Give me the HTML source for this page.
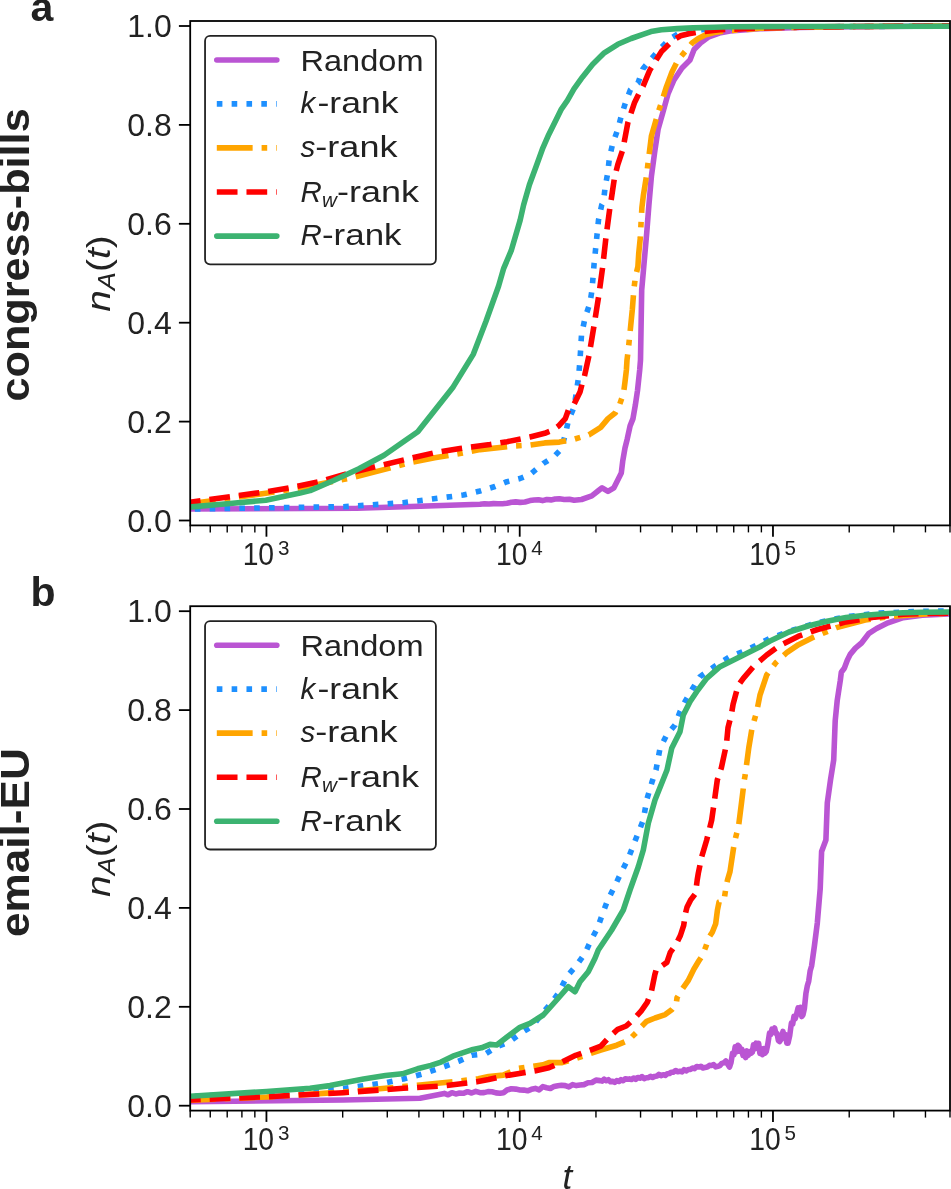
<!DOCTYPE html><html><head><meta charset="utf-8"><style>html,body{margin:0;padding:0;background:#fff;overflow:hidden;}svg{display:block;will-change:transform;}</style></head><body>
<svg width="951" height="1189" viewBox="0 0 951 1189" font-family='"Liberation Sans", sans-serif' fill="#222">
<rect x="0" y="0" width="951" height="1189" fill="#fff"/>
<clipPath id="clipa"><rect x="190.2" y="21.0" width="759.8" height="504.4"/></clipPath>
<polyline points="180.0,509.3 190.0,509.0 356.7,508.3 480.0,504.3 484.5,503.7 489.0,504.0 493.5,503.6 498.0,503.8 502.5,503.7 507.0,503.3 511.3,502.3 515.7,501.9 520.0,502.4 525.0,502.0 530.0,500.6 534.2,500.0 538.4,499.7 542.6,500.6 546.8,499.5 551.0,499.9 555.2,499.0 559.4,498.8 564.3,499.5 569.3,499.2 574.2,500.3 581.5,499.5 591.8,495.9 599.2,490.0 602.1,487.8 608.0,491.4 613.9,487.8 618.3,478.9 621.3,473.0 622.7,461.3 625.0,448.0 627.2,439.2 630.1,425.9 633.0,418.6 635.3,405.3 637.5,390.6 639.7,370.0 640.5,360.0 641.7,290.0 646.7,233.3 648.9,205.0 651.4,176.4 654.8,151.2 658.1,129.3 663.0,112.0 668.0,94.0 674.0,80.0 682.0,68.0 690.0,60.0 694.1,49.4 701.5,42.1 708.9,36.8 719.4,33.1 730.0,31.0 760.0,28.8 800.0,27.5 850.0,26.7 960.0,26.0" fill="none" stroke="#BA55D3" stroke-width="5.6" stroke-linejoin="round" stroke-linecap="round" clip-path="url(#clipa)"/>
<polyline points="180.0,509.2 190.0,509.0 343.3,506.7 403.3,502.7 463.3,495.0 480.0,491.0 495.0,486.5 507.0,481.7 520.0,478.5 530.0,474.5 543.2,463.5 553.6,456.9 560.9,449.5 565.3,434.8 568.3,420.8 574.2,406.8 576.4,392.1 578.6,376.6 580.0,360.0 581.5,335.0 585.0,318.0 590.0,303.0 592.0,290.0 594.0,265.0 596.5,240.0 598.5,220.0 601.7,205.0 603.5,201.6 605.1,187.3 607.7,173.0 609.4,157.9 612.7,143.6 617.8,129.3 621.1,116.7 625.3,103.2 630.4,89.8 638.0,83.0 643.0,68.7 651.4,58.6 660.5,48.4 670.0,38.9 678.4,33.7 696.7,30.0 720.0,28.3 800.0,26.9 960.0,25.9" fill="none" stroke="#1E90FF" stroke-width="5.6" stroke-linejoin="round" stroke-linecap="butt" stroke-dasharray="5.60,9.24" clip-path="url(#clipa)"/>
<polyline points="180.0,505.0 191.7,503.5 235.5,497.5 265.8,493.3 300.0,488.0 350.5,478.0 380.8,470.4 409.4,462.8 434.6,457.8 460.0,453.6 480.0,449.6 513.3,446.0 530.0,445.1 544.7,442.9 559.4,442.1 574.2,439.2 588.9,434.8 600.7,427.4 608.0,418.6 615.4,412.7 619.8,403.9 623.5,393.6 625.0,381.8 626.4,370.0 627.0,360.0 628.3,349.7 630.7,325.8 632.3,309.8 633.9,289.0 635.5,276.3 637.9,266.7 638.7,253.9 640.3,237.9 641.1,221.9 641.9,207.6 643.3,196.0 646.4,176.4 648.9,156.2 651.4,136.0 654.8,124.3 658.1,112.5 661.0,104.0 666.0,88.0 672.0,72.0 678.0,60.0 684.2,52.6 692.0,43.1 698.3,38.4 705.7,34.7 714.1,32.6 724.6,31.0 760.0,28.3 800.0,27.3 850.0,26.6 960.0,25.9" fill="none" stroke="#FFA500" stroke-width="5.6" stroke-linejoin="round" stroke-linecap="butt" stroke-dasharray="35.84,8.96,5.60,8.96" clip-path="url(#clipa)"/>
<polyline points="180.0,503.5 191.7,501.9 235.5,496.0 265.8,491.8 294.4,487.0 320.0,481.5 343.7,474.6 377.4,466.2 406.0,459.4 434.6,452.7 460.0,448.5 490.0,444.5 507.0,441.7 530.0,437.0 544.7,433.3 552.1,430.4 558.7,425.9 565.3,418.6 569.0,408.3 574.2,403.9 580.0,392.1 582.3,383.2 584.5,376.0 589.2,354.5 594.0,325.8 598.8,295.4 602.7,266.7 605.9,237.9 609.9,207.6 611.3,199.0 614.4,178.1 617.8,164.6 622.8,149.5 627.9,122.6 634.6,102.4 639.6,92.3 643.0,86.4 649.7,70.4 654.8,62.0 661.5,51.5 672.1,41.0 680.5,35.8 688.9,33.7 698.3,32.1 720.0,29.8 760.0,28.0 800.0,27.2 850.0,26.5 960.0,25.8" fill="none" stroke="#FF0000" stroke-width="5.6" stroke-linejoin="round" stroke-linecap="butt" stroke-dasharray="20.72,8.96" clip-path="url(#clipa)"/>
<polyline points="180.0,507.4 191.7,506.9 230.0,503.5 265.8,500.2 300.0,493.1 310.1,490.6 333.6,480.5 358.9,468.7 384.1,455.2 400.9,443.5 417.8,431.7 453.2,386.9 473.4,354.1 486.0,321.3 498.6,286.0 503.7,268.3 511.2,250.7 520.1,220.4 523.6,205.0 529.4,184.8 536.2,166.3 542.9,147.8 548.8,134.4 555.5,120.9 561.4,109.1 567.3,100.7 574.0,88.9 582.4,77.2 592.5,64.5 604.3,52.8 617.8,44.3 631.2,38.5 643.0,34.3 651.0,31.6 661.5,29.8 677.3,28.6 693.1,27.9 714.1,27.2 730.0,26.8 790.0,26.5 960.0,26.2" fill="none" stroke="#3CB371" stroke-width="5.6" stroke-linejoin="round" stroke-linecap="round" clip-path="url(#clipa)"/>
<rect x="190.2" y="21.0" width="759.8" height="504.4" fill="none" stroke="#000" stroke-width="1.8"/>
<line x1="178.89999999999998" y1="520.50" x2="190.2" y2="520.50" stroke="#000" stroke-width="1.8"/>
<text x="171.8" y="531.50" font-size="30.5" text-anchor="end" textLength="44.5" lengthAdjust="spacingAndGlyphs">0.0</text>
<line x1="178.89999999999998" y1="421.60" x2="190.2" y2="421.60" stroke="#000" stroke-width="1.8"/>
<text x="171.8" y="432.60" font-size="30.5" text-anchor="end" textLength="44.5" lengthAdjust="spacingAndGlyphs">0.2</text>
<line x1="178.89999999999998" y1="322.70" x2="190.2" y2="322.70" stroke="#000" stroke-width="1.8"/>
<text x="171.8" y="333.70" font-size="30.5" text-anchor="end" textLength="44.5" lengthAdjust="spacingAndGlyphs">0.4</text>
<line x1="178.89999999999998" y1="223.80" x2="190.2" y2="223.80" stroke="#000" stroke-width="1.8"/>
<text x="171.8" y="234.80" font-size="30.5" text-anchor="end" textLength="44.5" lengthAdjust="spacingAndGlyphs">0.6</text>
<line x1="178.89999999999998" y1="124.90" x2="190.2" y2="124.90" stroke="#000" stroke-width="1.8"/>
<text x="171.8" y="135.90" font-size="30.5" text-anchor="end" textLength="44.5" lengthAdjust="spacingAndGlyphs">0.8</text>
<line x1="178.89999999999998" y1="26.00" x2="190.2" y2="26.00" stroke="#000" stroke-width="1.8"/>
<text x="171.8" y="37.00" font-size="30.5" text-anchor="end" textLength="44.5" lengthAdjust="spacingAndGlyphs">1.0</text>
<line x1="266.44" y1="525.4" x2="266.44" y2="536.6999999999999" stroke="#000" stroke-width="1.8"/>
<text x="242.64" y="565.00" font-size="30.5" textLength="31.5" lengthAdjust="spacingAndGlyphs">10</text>
<text x="278.04" y="554.60" font-size="20.6">3</text>
<line x1="519.71" y1="525.4" x2="519.71" y2="536.6999999999999" stroke="#000" stroke-width="1.8"/>
<text x="495.91" y="565.00" font-size="30.5" textLength="31.5" lengthAdjust="spacingAndGlyphs">10</text>
<text x="531.31" y="554.60" font-size="20.6">4</text>
<line x1="772.97" y1="525.4" x2="772.97" y2="536.6999999999999" stroke="#000" stroke-width="1.8"/>
<text x="749.17" y="565.00" font-size="30.5" textLength="31.5" lengthAdjust="spacingAndGlyphs">10</text>
<text x="784.57" y="554.60" font-size="20.6">5</text>
<line x1="190.20" y1="525.4" x2="190.20" y2="532.4" stroke="#000" stroke-width="1.4"/>
<line x1="210.25" y1="525.4" x2="210.25" y2="532.4" stroke="#000" stroke-width="1.4"/>
<line x1="227.21" y1="525.4" x2="227.21" y2="532.4" stroke="#000" stroke-width="1.4"/>
<line x1="241.90" y1="525.4" x2="241.90" y2="532.4" stroke="#000" stroke-width="1.4"/>
<line x1="254.85" y1="525.4" x2="254.85" y2="532.4" stroke="#000" stroke-width="1.4"/>
<line x1="342.68" y1="525.4" x2="342.68" y2="532.4" stroke="#000" stroke-width="1.4"/>
<line x1="387.28" y1="525.4" x2="387.28" y2="532.4" stroke="#000" stroke-width="1.4"/>
<line x1="418.92" y1="525.4" x2="418.92" y2="532.4" stroke="#000" stroke-width="1.4"/>
<line x1="443.47" y1="525.4" x2="443.47" y2="532.4" stroke="#000" stroke-width="1.4"/>
<line x1="463.52" y1="525.4" x2="463.52" y2="532.4" stroke="#000" stroke-width="1.4"/>
<line x1="480.48" y1="525.4" x2="480.48" y2="532.4" stroke="#000" stroke-width="1.4"/>
<line x1="495.16" y1="525.4" x2="495.16" y2="532.4" stroke="#000" stroke-width="1.4"/>
<line x1="508.12" y1="525.4" x2="508.12" y2="532.4" stroke="#000" stroke-width="1.4"/>
<line x1="595.95" y1="525.4" x2="595.95" y2="532.4" stroke="#000" stroke-width="1.4"/>
<line x1="640.55" y1="525.4" x2="640.55" y2="532.4" stroke="#000" stroke-width="1.4"/>
<line x1="672.19" y1="525.4" x2="672.19" y2="532.4" stroke="#000" stroke-width="1.4"/>
<line x1="696.73" y1="525.4" x2="696.73" y2="532.4" stroke="#000" stroke-width="1.4"/>
<line x1="716.79" y1="525.4" x2="716.79" y2="532.4" stroke="#000" stroke-width="1.4"/>
<line x1="733.74" y1="525.4" x2="733.74" y2="532.4" stroke="#000" stroke-width="1.4"/>
<line x1="748.43" y1="525.4" x2="748.43" y2="532.4" stroke="#000" stroke-width="1.4"/>
<line x1="761.39" y1="525.4" x2="761.39" y2="532.4" stroke="#000" stroke-width="1.4"/>
<line x1="849.22" y1="525.4" x2="849.22" y2="532.4" stroke="#000" stroke-width="1.4"/>
<line x1="893.81" y1="525.4" x2="893.81" y2="532.4" stroke="#000" stroke-width="1.4"/>
<line x1="925.46" y1="525.4" x2="925.46" y2="532.4" stroke="#000" stroke-width="1.4"/>
<line x1="950.00" y1="525.4" x2="950.00" y2="532.4" stroke="#000" stroke-width="1.4"/>
<rect x="205.05" y="35.9" width="230.85" height="228.40" rx="5" ry="5" fill="#fff" stroke="#222" stroke-width="1.8"/>
<polyline points="216.8,60.0 276.8,60.0" fill="none" stroke="#BA55D3" stroke-width="5.6" stroke-linejoin="round" stroke-linecap="round"/>
<text x="300.5" y="70.80" font-size="29.5" textLength="123.0" lengthAdjust="spacingAndGlyphs">Random</text>
<polyline points="216.8,103.9 276.8,103.9" fill="none" stroke="#1E90FF" stroke-width="5.6" stroke-linejoin="round" stroke-linecap="butt" stroke-dasharray="5.60,9.24"/>
<text x="300.5" y="113.30" font-size="29.5" font-style="italic">k</text>
<text x="317.5" y="113.30" font-size="29.5" textLength="81.0" lengthAdjust="spacingAndGlyphs">-rank</text>
<polyline points="216.8,147.9 276.8,147.9" fill="none" stroke="#FFA500" stroke-width="5.6" stroke-linejoin="round" stroke-linecap="butt" stroke-dasharray="35.84,8.96,5.60,8.96"/>
<text x="300.5" y="157.10" font-size="29.5" font-style="italic">s</text>
<text x="315.3" y="157.10" font-size="29.5" textLength="82.2" lengthAdjust="spacingAndGlyphs">-rank</text>
<polyline points="216.8,192.0 276.8,192.0" fill="none" stroke="#FF0000" stroke-width="5.6" stroke-linejoin="round" stroke-linecap="butt" stroke-dasharray="20.72,8.96"/>
<text x="300.5" y="201.70" font-size="29.5" font-style="italic">R</text>
<text x="322.0" y="206.50" font-size="20.6" font-style="italic">w</text>
<text x="337.0" y="201.70" font-size="29.5" textLength="82.0" lengthAdjust="spacingAndGlyphs">-rank</text>
<polyline points="216.8,236.1 276.8,236.1" fill="none" stroke="#3CB371" stroke-width="5.6" stroke-linejoin="round" stroke-linecap="round"/>
<text x="300.5" y="245.40" font-size="29.5" font-style="italic">R</text>
<text x="322.0" y="245.40" font-size="29.5" textLength="79.5" lengthAdjust="spacingAndGlyphs">-rank</text>
<g transform="translate(109.6,273.6) rotate(-90)"><text x="-38.2" y="0" font-size="33.0" textLength="76.5" lengthAdjust="spacingAndGlyphs"><tspan font-style="italic">n</tspan><tspan font-size="23.1" font-style="italic" dy="5.5">A</tspan><tspan dy="-5.5">(</tspan><tspan font-style="italic">t</tspan>)</text></g>
<text transform="translate(28.8,401.6) rotate(-90)" font-size="41.0" font-weight="bold" textLength="293.3" lengthAdjust="spacingAndGlyphs">congress-bills</text>
<text x="30.5" y="21.2" font-size="41.0" font-weight="bold">a</text>
<clipPath id="clipb"><rect x="190.2" y="606.2" width="759.8" height="504.39999999999986"/></clipPath>
<polyline points="180.0,1102.0 190.0,1101.7 343.3,1100.0 420.0,1098.3 436.7,1095.0 440.5,1094.2 444.3,1093.4 448.1,1094.8 451.9,1092.7 455.7,1093.9 459.5,1093.1 463.3,1093.3 467.5,1091.7 471.6,1093.0 475.8,1091.4 480.0,1092.7 484.0,1092.6 488.0,1091.6 492.0,1091.8 496.0,1092.9 500.0,1093.3 503.5,1092.7 507.0,1090.0 511.3,1088.8 515.7,1089.1 520.0,1090.0 523.8,1090.1 527.6,1090.8 531.4,1089.3 535.3,1088.4 539.1,1089.9 542.9,1086.6 546.7,1087.7 550.4,1088.5 554.1,1086.4 557.8,1085.7 561.5,1085.3 565.2,1085.6 568.9,1086.9 572.6,1084.6 576.3,1085.6 580.0,1085.0 584.0,1084.6 588.0,1082.8 592.0,1082.5 596.0,1080.1 600.0,1080.6 602.1,1081.1 604.2,1079.2 606.3,1080.7 608.4,1079.7 610.5,1081.8 612.6,1081.2 614.7,1082.4 616.8,1080.6 618.9,1081.5 621.0,1079.7 623.1,1080.7 625.2,1078.7 627.3,1079.3 629.4,1078.9 631.5,1079.5 633.6,1078.0 635.7,1079.3 637.8,1077.5 639.9,1078.2 642.0,1076.6 644.2,1078.6 646.3,1077.7 648.4,1077.7 650.5,1076.4 652.6,1077.4 654.7,1076.4 656.8,1076.1 658.9,1074.3 661.0,1075.6 663.1,1074.7 665.2,1075.4 667.3,1073.8 669.4,1073.5 671.5,1072.2 673.6,1072.1 675.7,1070.5 677.8,1071.7 679.9,1071.3 682.0,1071.9 684.1,1069.6 686.2,1070.9 688.3,1069.5 690.4,1069.4 692.5,1068.0 694.6,1068.6 696.7,1066.5 698.8,1067.0 700.9,1066.3 703.0,1068.0 705.1,1067.4 707.3,1067.0 709.4,1065.4 711.5,1065.5 713.6,1064.6 715.7,1066.9 717.8,1066.3 719.8,1065.6 721.8,1063.4 723.8,1062.9 725.8,1061.0 729.5,1067.0 731.0,1062.6 732.5,1053.3 733.9,1054.7 735.2,1046.8 736.6,1051.8 737.9,1045.3 739.3,1046.6 740.5,1051.5 741.8,1049.1 743.0,1055.5 744.3,1055.0 745.6,1057.6 747.0,1050.9 748.3,1055.4 749.7,1051.6 751.0,1053.3 752.3,1052.2 753.5,1044.8 754.8,1048.9 756.1,1043.2 757.4,1046.6 758.6,1043.4 759.9,1053.4 761.1,1051.6 762.4,1054.6 763.7,1048.7 764.9,1053.2 766.2,1051.6 767.9,1043.6 769.5,1033.1 770.8,1034.5 772.0,1029.2 773.3,1031.0 774.6,1028.0 775.9,1033.3 777.1,1033.5 778.4,1040.6 779.6,1041.5 781.3,1038.9 783.0,1031.4 784.2,1037.9 785.5,1034.6 786.8,1043.2 788.0,1043.2 789.7,1035.7 791.4,1023.0 792.7,1024.0 794.0,1016.3 795.2,1018.7 796.5,1014.6 798.1,1007.9 799.3,1013.6 800.5,1007.3 801.8,1016.6 803.0,1014.7 804.4,1008.3 805.9,993.6 807.3,986.1 808.7,981.2 810.2,970.7 811.6,966.0 814.4,946.0 817.3,923.1 820.2,888.8 821.6,851.6 825.9,840.1 827.3,802.9 830.5,780.0 833.7,760.0 835.2,720.8 837.2,700.6 840.3,680.4 841.3,672.3 844.3,668.3 847.3,660.2 850.4,654.1 855.4,648.1 861.5,643.0 869.0,633.3 876.6,628.5 888.0,622.8 903.2,617.6 922.3,615.3 948.9,614.0 960.0,613.8" fill="none" stroke="#BA55D3" stroke-width="5.6" stroke-linejoin="round" stroke-linecap="round" clip-path="url(#clipb)"/>
<polyline points="180.0,1097.0 190.0,1096.5 266.7,1093.0 310.0,1091.0 343.3,1088.5 386.7,1082.5 403.3,1079.0 423.3,1073.8 444.4,1066.5 458.4,1061.4 471.7,1055.3 485.6,1053.8 497.4,1046.4 509.2,1042.0 521.0,1033.2 532.7,1025.8 543.0,1012.6 551.9,1002.3 559.2,992.0 566.7,976.7 576.7,965.0 585.0,953.3 590.8,940.6 597.6,927.9 602.6,913.6 607.7,900.2 614.4,886.7 620.0,875.0 628.3,858.3 636.7,836.7 643.3,820.0 646.7,800.0 652.0,782.0 656.0,770.0 660.0,748.3 666.7,735.0 675.0,725.0 680.0,711.7 685.0,701.7 691.7,690.0 700.0,676.7 716.7,665.0 730.0,656.7 746.7,650.0 770.0,638.3 793.3,630.0 810.0,624.8 830.0,619.8 850.0,616.2 880.0,613.0 920.0,611.3 960.0,610.8" fill="none" stroke="#1E90FF" stroke-width="5.6" stroke-linejoin="round" stroke-linecap="butt" stroke-dasharray="5.60,9.24" clip-path="url(#clipb)"/>
<polyline points="180.0,1100.8 190.0,1100.3 266.7,1097.0 343.3,1092.0 420.0,1085.0 459.1,1081.0 478.3,1078.8 488.6,1076.6 503.3,1075.1 518.0,1068.5 528.3,1067.0 543.0,1064.8 548.9,1062.6 562.2,1062.6 576.9,1058.2 600.0,1050.3 616.8,1045.2 628.6,1040.2 637.0,1031.8 640.0,1028.0 646.7,1021.3 655.1,1018.0 665.2,1014.6 672.0,1009.5 676.2,1004.5 677.0,997.8 682.1,989.4 688.0,980.9 690.5,975.9 693.8,969.2 698.9,960.8 702.2,955.7 705.6,947.3 709.0,937.2 712.3,932.2 715.7,923.7 717.4,910.3 719.1,901.9 724.1,900.2 725.8,888.4 727.5,880.0 730.0,871.6 734.3,843.0 738.6,825.8 741.5,802.9 744.3,780.0 745.2,775.0 748.7,748.3 752.0,728.3 756.7,711.7 760.0,695.0 766.7,675.0 775.7,662.8 787.1,652.3 798.5,644.7 813.8,637.1 836.6,627.6 865.2,620.0 893.7,616.2 930.0,613.8 960.0,613.2" fill="none" stroke="#FFA500" stroke-width="5.6" stroke-linejoin="round" stroke-linecap="butt" stroke-dasharray="35.84,8.96,5.60,8.96" clip-path="url(#clipb)"/>
<polyline points="180.0,1100.5 190.0,1100.0 266.7,1096.7 343.3,1092.7 403.3,1088.3 440.0,1086.2 459.1,1084.0 476.8,1081.8 488.6,1079.6 504.8,1075.9 522.4,1072.9 535.7,1070.7 548.9,1067.8 560.7,1062.6 575.7,1055.3 587.5,1051.2 600.9,1046.2 607.7,1038.6 617.8,1029.3 626.2,1026.0 634.6,1018.4 641.3,1010.8 647.2,1002.4 651.4,991.5 654.8,974.7 656.8,967.5 661.9,965.8 666.9,962.4 670.3,952.3 676.2,943.9 680.4,935.5 683.7,925.4 685.4,913.6 687.1,906.9 690.5,900.2 695.5,893.5 697.2,880.0 698.3,873.3 701.7,856.7 706.7,840.0 711.7,820.0 715.0,796.7 717.3,780.0 721.3,768.1 726.4,744.6 728.0,727.8 731.4,714.3 733.1,704.2 738.1,685.7 743.3,678.3 753.3,666.7 766.7,655.0 779.5,645.7 798.5,636.2 817.6,629.5 846.1,621.9 874.7,617.1 903.2,614.2 930.0,613.4 960.0,612.9" fill="none" stroke="#FF0000" stroke-width="5.6" stroke-linejoin="round" stroke-linecap="butt" stroke-dasharray="20.72,8.96" clip-path="url(#clipb)"/>
<polyline points="180.0,1096.8 190.0,1096.3 266.7,1091.5 310.0,1088.2 330.0,1085.6 363.6,1078.9 385.5,1075.5 402.3,1073.8 417.5,1068.8 430.9,1065.4 441.0,1062.1 452.8,1056.2 473.0,1049.4 481.4,1047.8 490.0,1044.4 496.7,1045.0 506.7,1037.3 520.0,1027.3 530.0,1023.3 543.3,1015.0 556.7,1000.0 568.3,986.7 575.0,991.7 580.0,981.7 588.3,971.7 595.0,958.3 598.3,950.0 611.7,930.0 623.3,910.0 630.0,890.0 638.3,866.7 643.3,850.0 648.3,823.3 655.0,800.0 663.0,780.0 667.0,770.0 671.7,748.3 680.0,731.7 683.3,715.0 690.0,701.7 696.7,691.7 706.7,678.3 720.0,666.7 740.0,656.7 760.0,646.7 770.0,641.0 789.0,632.0 808.0,626.0 827.0,621.3 846.0,617.5 865.0,615.3 884.0,613.8 903.0,612.8 922.0,612.3 960.0,611.8" fill="none" stroke="#3CB371" stroke-width="5.6" stroke-linejoin="round" stroke-linecap="round" clip-path="url(#clipb)"/>
<rect x="190.2" y="606.2" width="759.8" height="504.39999999999986" fill="none" stroke="#000" stroke-width="1.8"/>
<line x1="178.89999999999998" y1="1105.70" x2="190.2" y2="1105.70" stroke="#000" stroke-width="1.8"/>
<text x="171.8" y="1116.70" font-size="30.5" text-anchor="end" textLength="44.5" lengthAdjust="spacingAndGlyphs">0.0</text>
<line x1="178.89999999999998" y1="1006.80" x2="190.2" y2="1006.80" stroke="#000" stroke-width="1.8"/>
<text x="171.8" y="1017.80" font-size="30.5" text-anchor="end" textLength="44.5" lengthAdjust="spacingAndGlyphs">0.2</text>
<line x1="178.89999999999998" y1="907.90" x2="190.2" y2="907.90" stroke="#000" stroke-width="1.8"/>
<text x="171.8" y="918.90" font-size="30.5" text-anchor="end" textLength="44.5" lengthAdjust="spacingAndGlyphs">0.4</text>
<line x1="178.89999999999998" y1="809.00" x2="190.2" y2="809.00" stroke="#000" stroke-width="1.8"/>
<text x="171.8" y="820.00" font-size="30.5" text-anchor="end" textLength="44.5" lengthAdjust="spacingAndGlyphs">0.6</text>
<line x1="178.89999999999998" y1="710.10" x2="190.2" y2="710.10" stroke="#000" stroke-width="1.8"/>
<text x="171.8" y="721.10" font-size="30.5" text-anchor="end" textLength="44.5" lengthAdjust="spacingAndGlyphs">0.8</text>
<line x1="178.89999999999998" y1="611.20" x2="190.2" y2="611.20" stroke="#000" stroke-width="1.8"/>
<text x="171.8" y="622.20" font-size="30.5" text-anchor="end" textLength="44.5" lengthAdjust="spacingAndGlyphs">1.0</text>
<line x1="266.44" y1="1110.6" x2="266.44" y2="1121.8999999999999" stroke="#000" stroke-width="1.8"/>
<text x="242.64" y="1150.20" font-size="30.5" textLength="31.5" lengthAdjust="spacingAndGlyphs">10</text>
<text x="278.04" y="1139.80" font-size="20.6">3</text>
<line x1="519.71" y1="1110.6" x2="519.71" y2="1121.8999999999999" stroke="#000" stroke-width="1.8"/>
<text x="495.91" y="1150.20" font-size="30.5" textLength="31.5" lengthAdjust="spacingAndGlyphs">10</text>
<text x="531.31" y="1139.80" font-size="20.6">4</text>
<line x1="772.97" y1="1110.6" x2="772.97" y2="1121.8999999999999" stroke="#000" stroke-width="1.8"/>
<text x="749.17" y="1150.20" font-size="30.5" textLength="31.5" lengthAdjust="spacingAndGlyphs">10</text>
<text x="784.57" y="1139.80" font-size="20.6">5</text>
<line x1="190.20" y1="1110.6" x2="190.20" y2="1117.6" stroke="#000" stroke-width="1.4"/>
<line x1="210.25" y1="1110.6" x2="210.25" y2="1117.6" stroke="#000" stroke-width="1.4"/>
<line x1="227.21" y1="1110.6" x2="227.21" y2="1117.6" stroke="#000" stroke-width="1.4"/>
<line x1="241.90" y1="1110.6" x2="241.90" y2="1117.6" stroke="#000" stroke-width="1.4"/>
<line x1="254.85" y1="1110.6" x2="254.85" y2="1117.6" stroke="#000" stroke-width="1.4"/>
<line x1="342.68" y1="1110.6" x2="342.68" y2="1117.6" stroke="#000" stroke-width="1.4"/>
<line x1="387.28" y1="1110.6" x2="387.28" y2="1117.6" stroke="#000" stroke-width="1.4"/>
<line x1="418.92" y1="1110.6" x2="418.92" y2="1117.6" stroke="#000" stroke-width="1.4"/>
<line x1="443.47" y1="1110.6" x2="443.47" y2="1117.6" stroke="#000" stroke-width="1.4"/>
<line x1="463.52" y1="1110.6" x2="463.52" y2="1117.6" stroke="#000" stroke-width="1.4"/>
<line x1="480.48" y1="1110.6" x2="480.48" y2="1117.6" stroke="#000" stroke-width="1.4"/>
<line x1="495.16" y1="1110.6" x2="495.16" y2="1117.6" stroke="#000" stroke-width="1.4"/>
<line x1="508.12" y1="1110.6" x2="508.12" y2="1117.6" stroke="#000" stroke-width="1.4"/>
<line x1="595.95" y1="1110.6" x2="595.95" y2="1117.6" stroke="#000" stroke-width="1.4"/>
<line x1="640.55" y1="1110.6" x2="640.55" y2="1117.6" stroke="#000" stroke-width="1.4"/>
<line x1="672.19" y1="1110.6" x2="672.19" y2="1117.6" stroke="#000" stroke-width="1.4"/>
<line x1="696.73" y1="1110.6" x2="696.73" y2="1117.6" stroke="#000" stroke-width="1.4"/>
<line x1="716.79" y1="1110.6" x2="716.79" y2="1117.6" stroke="#000" stroke-width="1.4"/>
<line x1="733.74" y1="1110.6" x2="733.74" y2="1117.6" stroke="#000" stroke-width="1.4"/>
<line x1="748.43" y1="1110.6" x2="748.43" y2="1117.6" stroke="#000" stroke-width="1.4"/>
<line x1="761.39" y1="1110.6" x2="761.39" y2="1117.6" stroke="#000" stroke-width="1.4"/>
<line x1="849.22" y1="1110.6" x2="849.22" y2="1117.6" stroke="#000" stroke-width="1.4"/>
<line x1="893.81" y1="1110.6" x2="893.81" y2="1117.6" stroke="#000" stroke-width="1.4"/>
<line x1="925.46" y1="1110.6" x2="925.46" y2="1117.6" stroke="#000" stroke-width="1.4"/>
<line x1="950.00" y1="1110.6" x2="950.00" y2="1117.6" stroke="#000" stroke-width="1.4"/>
<rect x="205.05" y="621.1" width="230.85" height="228.40" rx="5" ry="5" fill="#fff" stroke="#222" stroke-width="1.8"/>
<polyline points="216.8,645.2 276.8,645.2" fill="none" stroke="#BA55D3" stroke-width="5.6" stroke-linejoin="round" stroke-linecap="round"/>
<text x="300.5" y="656.00" font-size="29.5" textLength="123.0" lengthAdjust="spacingAndGlyphs">Random</text>
<polyline points="216.8,689.1 276.8,689.1" fill="none" stroke="#1E90FF" stroke-width="5.6" stroke-linejoin="round" stroke-linecap="butt" stroke-dasharray="5.60,9.24"/>
<text x="300.5" y="698.50" font-size="29.5" font-style="italic">k</text>
<text x="317.5" y="698.50" font-size="29.5" textLength="81.0" lengthAdjust="spacingAndGlyphs">-rank</text>
<polyline points="216.8,733.1 276.8,733.1" fill="none" stroke="#FFA500" stroke-width="5.6" stroke-linejoin="round" stroke-linecap="butt" stroke-dasharray="35.84,8.96,5.60,8.96"/>
<text x="300.5" y="742.30" font-size="29.5" font-style="italic">s</text>
<text x="315.3" y="742.30" font-size="29.5" textLength="82.2" lengthAdjust="spacingAndGlyphs">-rank</text>
<polyline points="216.8,777.2 276.8,777.2" fill="none" stroke="#FF0000" stroke-width="5.6" stroke-linejoin="round" stroke-linecap="butt" stroke-dasharray="20.72,8.96"/>
<text x="300.5" y="786.90" font-size="29.5" font-style="italic">R</text>
<text x="322.0" y="791.70" font-size="20.6" font-style="italic">w</text>
<text x="337.0" y="786.90" font-size="29.5" textLength="82.0" lengthAdjust="spacingAndGlyphs">-rank</text>
<polyline points="216.8,821.3 276.8,821.3" fill="none" stroke="#3CB371" stroke-width="5.6" stroke-linejoin="round" stroke-linecap="round"/>
<text x="300.5" y="830.60" font-size="29.5" font-style="italic">R</text>
<text x="322.0" y="830.60" font-size="29.5" textLength="79.5" lengthAdjust="spacingAndGlyphs">-rank</text>
<g transform="translate(109.6,858.8) rotate(-90)"><text x="-38.2" y="0" font-size="33.0" textLength="76.5" lengthAdjust="spacingAndGlyphs"><tspan font-style="italic">n</tspan><tspan font-size="23.1" font-style="italic" dy="5.5">A</tspan><tspan dy="-5.5">(</tspan><tspan font-style="italic">t</tspan>)</text></g>
<text transform="translate(28.8,937.1) rotate(-90)" font-size="41.0" font-weight="bold" textLength="188.9" lengthAdjust="spacingAndGlyphs">email-EU</text>
<text x="30.5" y="606.4" font-size="41.0" font-weight="bold">b</text>
<text x="562.5" y="1188.5" font-size="35" font-style="italic">t</text>
</svg></body></html>
